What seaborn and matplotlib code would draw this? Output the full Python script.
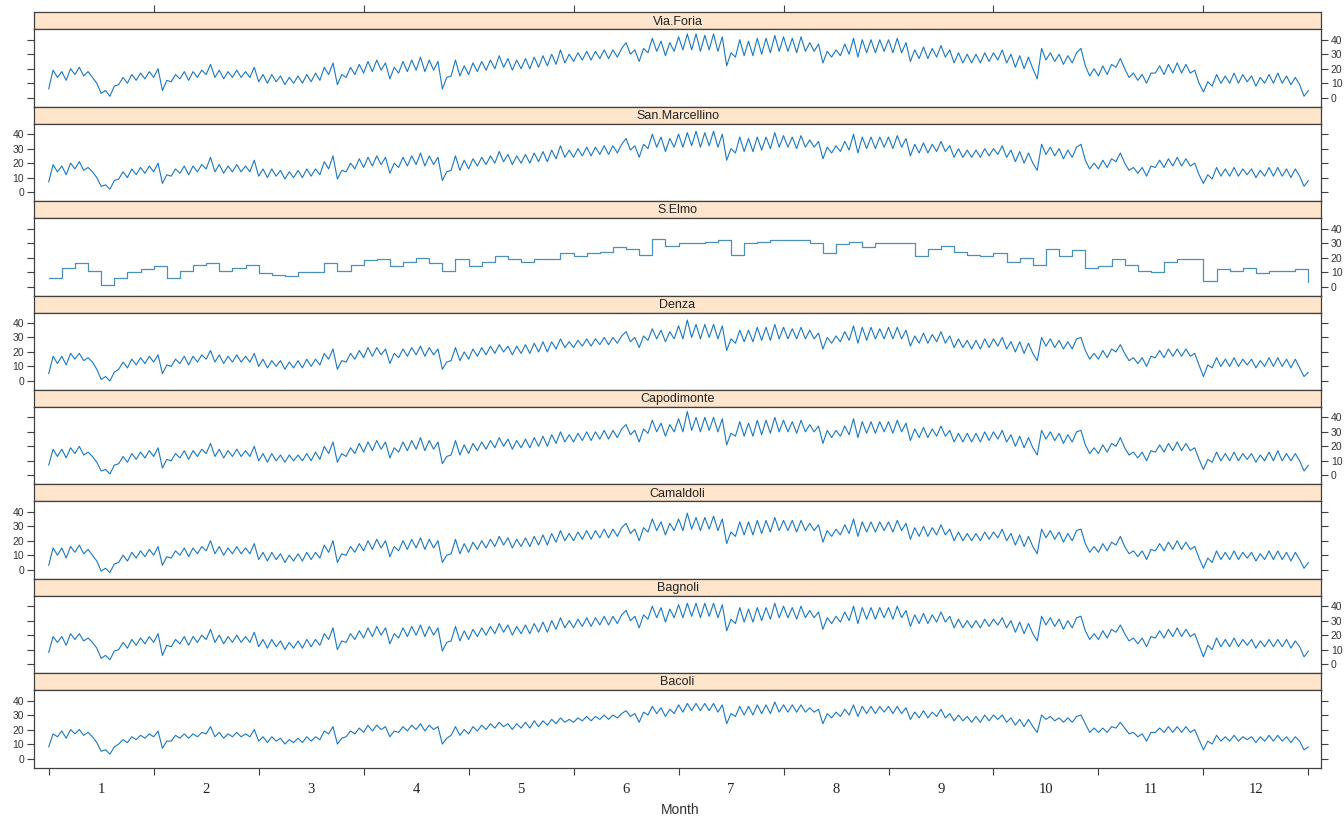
import numpy as np
import matplotlib
matplotlib.use("Agg")
from matplotlib import pyplot as plt
import seaborn as sns

stations = ["Via.Foria", "San.Marcellino", "S.Elmo", "Denza",
            "Capodimonte", "Camaldoli", "Bagnoli", "Bacoli"]

# values: 24 per month (zigzag of the daily cycle) + last point
via_foria = [
    6, 19, 14, 18, 12, 20, 16, 21, 15, 18, 14, 10, 3, 5, 1, 8, 9, 14, 10, 16, 12, 17, 13, 18,
    14, 20, 5, 12, 11, 16, 13, 18, 12, 18, 14, 19, 16, 23, 14, 19, 13, 18, 14, 19, 14, 18, 14, 21,
    11, 16, 10, 16, 11, 15, 9, 14, 10, 15, 10, 16, 11, 17, 12, 21, 16, 24, 9, 16, 14, 21, 16, 23,
    17, 25, 18, 26, 19, 24, 13, 21, 17, 25, 18, 26, 19, 28, 18, 26, 19, 25, 6, 14, 15, 26, 15, 22,
    16, 24, 18, 25, 19, 26, 20, 29, 21, 27, 19, 26, 20, 27, 20, 28, 21, 29, 22, 30, 23, 33, 24, 30,
    25, 31, 26, 32, 26, 32, 27, 33, 27, 33, 28, 34, 38, 30, 33, 25, 34, 31, 41, 32, 39, 29, 38, 32,
    42, 33, 44, 33, 44, 32, 43, 33, 44, 32, 42, 22, 31, 28, 40, 29, 39, 29, 41, 30, 41, 31, 43, 32,
    42, 32, 41, 31, 42, 32, 38, 32, 37, 24, 32, 28, 33, 29, 37, 30, 41, 28, 40, 31, 40, 31, 40, 32,
    40, 31, 41, 31, 38, 25, 33, 27, 35, 27, 34, 28, 36, 28, 33, 24, 31, 24, 30, 24, 30, 24, 31, 25,
    31, 26, 33, 24, 30, 21, 29, 20, 28, 20, 13, 34, 26, 31, 25, 30, 23, 29, 24, 31, 34, 22, 15, 20,
    15, 22, 16, 23, 21, 27, 20, 14, 17, 12, 16, 10, 17, 17, 22, 16, 23, 17, 24, 17, 23, 17, 19, 10,
    4, 11, 8, 16, 10, 15, 10, 17, 10, 16, 11, 15, 8, 14, 10, 16, 10, 17, 10, 15, 9, 14, 9, 1,
    5]
san_marcellino = [
    7, 19, 14, 18, 12, 20, 16, 21, 15, 17, 14, 10, 4, 5, 2, 8, 9, 14, 10, 16, 12, 17, 13, 18,
    14, 20, 6, 12, 11, 16, 13, 18, 12, 18, 14, 19, 16, 24, 14, 19, 13, 18, 14, 19, 14, 18, 14, 22,
    11, 16, 10, 16, 11, 15, 9, 14, 10, 15, 10, 16, 11, 16, 12, 21, 16, 25, 9, 15, 14, 20, 16, 23,
    17, 24, 18, 25, 19, 24, 13, 20, 17, 24, 18, 25, 19, 27, 18, 25, 19, 24, 8, 14, 15, 25, 15, 22,
    16, 23, 18, 24, 19, 25, 20, 28, 21, 26, 19, 25, 20, 26, 20, 27, 21, 28, 21, 29, 23, 32, 24, 29,
    24, 30, 25, 31, 25, 31, 26, 32, 26, 32, 27, 33, 37, 29, 32, 24, 33, 30, 40, 31, 38, 28, 37, 31,
    40, 31, 41, 32, 42, 31, 41, 32, 42, 31, 40, 22, 30, 27, 38, 28, 37, 28, 38, 29, 38, 30, 41, 31,
    39, 31, 38, 30, 39, 31, 36, 31, 35, 23, 31, 27, 32, 28, 35, 29, 40, 27, 38, 30, 38, 30, 38, 31,
    38, 30, 39, 31, 37, 25, 33, 27, 34, 27, 33, 28, 35, 28, 32, 24, 30, 24, 29, 24, 29, 24, 30, 25,
    30, 26, 32, 24, 29, 21, 28, 20, 27, 20, 15, 33, 26, 31, 25, 30, 23, 29, 24, 31, 33, 22, 16, 20,
    16, 22, 17, 23, 21, 27, 20, 15, 17, 13, 17, 11, 18, 17, 22, 17, 23, 18, 24, 18, 23, 18, 20, 12,
    6, 12, 9, 17, 11, 16, 11, 17, 11, 16, 12, 16, 10, 15, 11, 17, 11, 17, 11, 16, 10, 16, 11, 4,
    8]
# S.Elmo: daily-ish steps, 8 per month + last point
s_elmo = [
    6, 13, 16, 11, 1, 6, 10, 12,
    14, 6, 11, 15, 16, 11, 13, 15,
    9, 8, 7, 10, 10, 16, 11, 15,
    18, 19, 14, 17, 20, 16, 11, 19,
    14, 17, 21, 19, 17, 19, 19, 23,
    21, 23, 24, 27, 26, 22, 33, 28,
    30, 30, 31, 32, 22, 30, 31, 32,
    32, 32, 30, 23, 29, 31, 27, 30,
    30, 30, 21, 26, 28, 24, 22, 21,
    23, 17, 20, 15, 26, 21, 25, 13,
    14, 19, 15, 11, 10, 17, 19, 19,
    4, 12, 11, 13, 9, 11, 11, 12,
    3]
denza = [
    5, 17, 12, 17, 11, 19, 15, 19, 14, 16, 13, 8, 1, 3, 0, 6, 8, 13, 9, 15, 11, 16, 12, 17,
    13, 18, 5, 11, 10, 15, 12, 17, 11, 17, 13, 18, 15, 21, 13, 18, 12, 17, 13, 18, 13, 17, 13, 19,
    10, 15, 9, 14, 10, 14, 8, 13, 9, 14, 9, 15, 10, 15, 11, 19, 15, 22, 8, 14, 13, 19, 15, 21,
    16, 23, 17, 23, 18, 22, 12, 19, 16, 22, 17, 23, 18, 24, 17, 23, 18, 22, 8, 13, 14, 23, 14, 20,
    15, 22, 17, 23, 18, 24, 19, 25, 20, 24, 18, 24, 19, 25, 19, 26, 20, 27, 20, 27, 22, 29, 23, 27,
    23, 28, 24, 29, 24, 29, 25, 30, 25, 30, 26, 31, 34, 27, 30, 23, 31, 28, 36, 29, 35, 27, 34, 29,
    38, 29, 42, 30, 39, 29, 39, 30, 39, 29, 38, 21, 29, 26, 35, 27, 35, 27, 37, 28, 37, 28, 39, 29,
    37, 29, 36, 29, 37, 29, 35, 29, 33, 22, 30, 26, 31, 27, 34, 28, 38, 26, 37, 28, 37, 29, 36, 29,
    37, 29, 37, 29, 35, 24, 31, 26, 33, 26, 32, 27, 34, 26, 31, 23, 29, 23, 28, 22, 28, 22, 29, 23,
    29, 24, 30, 22, 27, 20, 27, 19, 26, 19, 14, 30, 24, 29, 23, 28, 22, 27, 22, 29, 30, 21, 15, 19,
    15, 21, 16, 22, 20, 25, 19, 14, 16, 12, 16, 10, 17, 16, 21, 16, 22, 17, 22, 17, 22, 17, 19, 11,
    3, 11, 9, 16, 10, 15, 10, 16, 10, 15, 11, 15, 9, 14, 10, 16, 10, 16, 10, 15, 9, 15, 9, 3,
    6]
capodimonte = [
    7, 18, 13, 18, 12, 19, 15, 20, 14, 16, 13, 9, 3, 4, 1, 7, 8, 13, 9, 15, 11, 16, 12, 17,
    13, 19, 5, 11, 10, 15, 12, 17, 11, 17, 13, 18, 15, 22, 13, 18, 12, 17, 13, 18, 13, 17, 13, 20,
    10, 15, 9, 15, 10, 14, 9, 14, 10, 14, 10, 15, 10, 16, 11, 20, 15, 23, 9, 15, 13, 19, 15, 22,
    16, 23, 17, 24, 18, 23, 12, 19, 16, 23, 17, 24, 18, 26, 17, 24, 18, 23, 8, 13, 14, 24, 14, 21,
    15, 22, 17, 23, 18, 24, 19, 26, 20, 25, 18, 24, 19, 25, 19, 26, 20, 27, 20, 28, 22, 30, 23, 28,
    23, 29, 24, 30, 24, 30, 25, 31, 25, 31, 26, 32, 35, 28, 31, 23, 32, 29, 38, 30, 36, 27, 35, 30,
    39, 30, 44, 31, 40, 30, 40, 31, 40, 30, 39, 21, 29, 27, 37, 27, 36, 27, 38, 28, 38, 29, 40, 30,
    38, 30, 37, 29, 38, 30, 35, 30, 34, 22, 31, 26, 31, 27, 34, 28, 39, 26, 37, 29, 37, 29, 37, 30,
    37, 29, 38, 30, 36, 24, 32, 26, 33, 26, 32, 27, 34, 27, 31, 23, 29, 23, 29, 23, 29, 23, 30, 24,
    30, 25, 31, 23, 28, 20, 27, 19, 26, 19, 14, 31, 25, 30, 24, 29, 22, 28, 23, 30, 31, 21, 15, 19,
    15, 21, 16, 22, 20, 26, 19, 14, 16, 12, 16, 10, 17, 16, 21, 16, 22, 17, 23, 17, 22, 17, 19, 11,
    4, 11, 9, 16, 10, 15, 10, 16, 10, 15, 11, 15, 9, 14, 10, 16, 10, 17, 10, 15, 10, 15, 10, 3,
    7]
camaldoli = [
    3, 15, 10, 15, 8, 16, 12, 17, 11, 14, 10, 6, -1, 1, -2, 4, 5, 10, 6, 12, 8, 13, 9, 14,
    10, 16, 3, 9, 8, 13, 10, 15, 9, 15, 11, 16, 13, 20, 11, 16, 10, 15, 11, 16, 11, 15, 11, 18,
    7, 12, 6, 12, 7, 11, 5, 10, 6, 11, 6, 12, 7, 12, 8, 17, 12, 20, 5, 11, 10, 16, 12, 18,
    13, 20, 14, 21, 15, 20, 9, 16, 13, 20, 14, 21, 15, 22, 14, 21, 15, 20, 5, 10, 11, 21, 11, 18,
    12, 19, 14, 20, 15, 21, 16, 23, 17, 22, 15, 21, 16, 22, 16, 23, 17, 24, 17, 25, 19, 27, 20, 25,
    20, 26, 21, 27, 21, 27, 22, 28, 22, 28, 23, 29, 32, 25, 28, 20, 29, 26, 35, 27, 33, 24, 32, 27,
    35, 27, 39, 28, 36, 27, 36, 28, 37, 27, 35, 18, 26, 23, 33, 24, 33, 24, 34, 25, 34, 26, 36, 27,
    34, 27, 34, 26, 34, 27, 32, 27, 31, 19, 27, 23, 28, 24, 31, 25, 35, 23, 33, 26, 33, 26, 33, 27,
    33, 26, 34, 27, 32, 21, 29, 23, 30, 23, 29, 24, 31, 24, 28, 20, 26, 20, 25, 20, 25, 20, 26, 21,
    26, 22, 28, 20, 25, 17, 24, 16, 23, 16, 11, 28, 22, 27, 21, 26, 19, 25, 20, 27, 28, 18, 12, 16,
    12, 18, 13, 19, 17, 23, 16, 11, 13, 9, 13, 7, 14, 13, 18, 13, 19, 14, 20, 14, 19, 14, 16, 8,
    1, 8, 5, 13, 7, 12, 7, 13, 7, 12, 8, 12, 6, 11, 7, 13, 7, 13, 7, 12, 6, 12, 7, 1,
    5]
bagnoli = [
    8, 19, 15, 19, 13, 21, 17, 21, 16, 18, 15, 11, 4, 6, 3, 9, 10, 15, 11, 17, 13, 18, 14, 19,
    15, 21, 6, 13, 12, 17, 14, 19, 13, 19, 15, 20, 17, 24, 15, 20, 14, 19, 15, 20, 15, 19, 15, 22,
    12, 17, 11, 17, 12, 16, 10, 15, 11, 16, 11, 17, 12, 17, 13, 21, 17, 25, 10, 16, 15, 21, 17, 23,
    18, 25, 19, 26, 20, 25, 14, 21, 18, 25, 19, 26, 20, 27, 19, 26, 20, 25, 9, 15, 16, 26, 16, 23,
    17, 24, 19, 25, 20, 26, 21, 28, 22, 27, 20, 26, 21, 27, 21, 28, 22, 29, 22, 30, 24, 32, 25, 30,
    25, 31, 26, 32, 26, 32, 27, 33, 27, 33, 28, 34, 37, 30, 33, 25, 34, 31, 40, 32, 39, 29, 38, 32,
    41, 32, 42, 33, 42, 32, 42, 33, 42, 32, 41, 23, 31, 28, 39, 29, 38, 29, 39, 30, 39, 31, 42, 32,
    40, 32, 39, 31, 40, 32, 37, 32, 36, 24, 32, 28, 33, 29, 36, 30, 40, 28, 39, 31, 39, 31, 39, 32,
    39, 31, 40, 32, 37, 26, 34, 28, 35, 28, 34, 29, 36, 29, 33, 25, 31, 25, 30, 25, 30, 25, 31, 26,
    31, 27, 32, 25, 30, 22, 29, 21, 28, 21, 16, 33, 27, 32, 26, 31, 24, 30, 25, 32, 33, 23, 17, 21,
    17, 23, 18, 24, 22, 27, 21, 16, 18, 14, 18, 12, 19, 18, 23, 18, 24, 19, 25, 19, 24, 19, 21, 13,
    5, 13, 10, 18, 12, 17, 12, 18, 12, 17, 13, 17, 11, 16, 12, 17, 12, 17, 12, 17, 11, 16, 12, 5,
    9]
bacoli = [
    8, 17, 15, 19, 14, 20, 17, 20, 16, 18, 15, 11, 5, 6, 3, 8, 10, 13, 11, 15, 13, 16, 14, 17,
    15, 19, 7, 12, 12, 16, 14, 17, 14, 17, 15, 18, 17, 22, 15, 18, 14, 17, 15, 18, 15, 17, 15, 20,
    12, 15, 11, 15, 12, 14, 10, 13, 11, 14, 11, 15, 12, 15, 13, 19, 17, 22, 10, 14, 15, 19, 17, 21,
    18, 23, 19, 23, 20, 22, 15, 19, 18, 22, 19, 23, 20, 24, 19, 23, 20, 22, 10, 14, 16, 22, 16, 20,
    17, 22, 19, 23, 20, 24, 21, 25, 22, 24, 20, 24, 21, 25, 21, 26, 22, 26, 23, 27, 24, 28, 25, 27,
    25, 28, 26, 29, 26, 29, 27, 30, 27, 30, 28, 31, 33, 29, 31, 25, 32, 30, 36, 31, 35, 29, 34, 31,
    37, 32, 38, 33, 38, 33, 38, 33, 38, 32, 37, 24, 31, 29, 36, 30, 36, 30, 37, 31, 37, 31, 39, 32,
    37, 32, 37, 32, 37, 32, 35, 32, 34, 24, 31, 28, 32, 29, 34, 30, 37, 29, 36, 31, 36, 31, 36, 32,
    36, 31, 36, 31, 35, 27, 32, 28, 33, 28, 32, 29, 34, 28, 31, 26, 30, 26, 29, 25, 29, 25, 30, 26,
    30, 27, 30, 25, 28, 23, 27, 22, 27, 22, 18, 30, 27, 29, 26, 28, 25, 28, 25, 29, 30, 24, 18, 21,
    18, 21, 18, 22, 21, 25, 21, 17, 18, 15, 17, 12, 18, 18, 21, 18, 22, 18, 22, 18, 22, 18, 20, 13,
    6, 12, 10, 16, 12, 15, 12, 16, 12, 15, 13, 15, 11, 15, 12, 16, 12, 16, 12, 15, 11, 15, 12, 6,
    8]

month_labels = [str(m) for m in range(1, 13)]
y_ticks = [0, 10, 20, 30, 40]

series = {
    "Via.Foria": via_foria,
    "San.Marcellino": san_marcellino,
    "S.Elmo": s_elmo,
    "Denza": denza,
    "Capodimonte": capodimonte,
    "Camaldoli": camaldoli,
    "Bagnoli": bagnoli,
    "Bacoli": bacoli,
}

sns.set_style("white")
plt.rcParams["font.family"] = ["Liberation Sans", "DejaVu Sans"]

W, H = 1344, 817
fig = plt.figure(figsize=(W / 100, H / 100), dpi=100)

left, right = 34, 1321
top0 = 12.3
step = 94.4
strip_h = 17
xlim = (-0.14, 12.12)
ylim = (-6.2, 47.2)
frame = "#404040"
line_col = "#1a78c2"

for i, name in enumerate(stations):
    vals = series[name]
    t = np.linspace(0, 12, len(vals))
    y_top = top0 + i * step

    ax_s = fig.add_axes([left / W, 1 - (y_top + strip_h) / H,
                         (right - left) / W, strip_h / H])
    ax = fig.add_axes([left / W, 1 - (y_top + step) / H,
                       (right - left) / W, (step - strip_h) / H])

    # strip
    ax_s.set_facecolor("#ffe5cc")
    ax_s.set_xlim(xlim)
    ax_s.set_yticks([])
    ax_s.text(0.5, 0.45, name, transform=ax_s.transAxes, ha="center",
              va="center", fontsize=9, color="#222222")
    for sp in ax_s.spines.values():
        sp.set_color(frame)
        sp.set_linewidth(0.9)
    if i == 0:
        ax_s.set_xticks([1, 3, 5, 7, 9, 11])
        ax_s.tick_params(axis="x", top=True, bottom=False, labeltop=False,
                         labelbottom=False, direction="out", length=5,
                         color=frame)
    else:
        ax_s.set_xticks([])

    # panel
    if name == "S.Elmo":
        sns.lineplot(x=t, y=vals, ax=ax, color="#4a90b8", linewidth=0.9,
                     estimator=None, drawstyle="steps-post")
    else:
        sns.lineplot(x=t, y=vals, ax=ax, color=line_col, linewidth=0.8,
                     estimator=None)
    ax.set_xlim(xlim)
    ax.set_ylim(ylim)
    ax.set_xlabel("")
    ax.set_ylabel("")
    for sp in ax.spines.values():
        sp.set_color(frame)
        sp.set_linewidth(0.9)
    ax.set_yticks(y_ticks)
    ax.tick_params(axis="y", left=True, right=True,
                   labelleft=(i % 2 == 1), labelright=(i % 2 == 0),
                   direction="out", length=5, labelsize=7.5,
                   color=frame, labelcolor="#333333", pad=2)

    if i == len(stations) - 1:
        ax.set_xticks(range(13))
        ax.set_xticklabels([])
        ax.set_xticks(np.arange(12) + 0.5, minor=True)
        ax.set_xticklabels(month_labels, minor=True, fontsize=10.5,
                           family=["Liberation Serif", "DejaVu Serif"],
                           color="#222222")
        ax.tick_params(axis="x", which="major", bottom=True, direction="out",
                       length=5, color=frame)
        ax.tick_params(axis="x", which="minor", bottom=True, length=0, pad=11)
    else:
        ax.set_xticks([])

fig.text(680 / W, 1 - 810 / H, "Month", ha="center", va="center",
         fontsize=10, color="#333333")

fig.savefig("out.png", dpi=100)
